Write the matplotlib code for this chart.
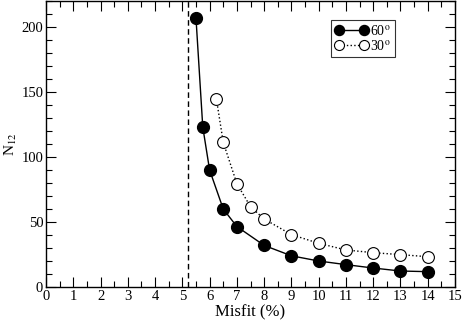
import matplotlib
matplotlib.use("Agg")
import matplotlib.pyplot as plt
from matplotlib.ticker import MultipleLocator

plt.rcParams['font.family'] = ['Liberation Serif', 'DejaVu Serif']
plt.rcParams['mathtext.fontset'] = 'stix'
plt.rcParams['xtick.direction'] = 'in'
plt.rcParams['ytick.direction'] = 'in'

misfit_60 = [5.5, 5.75, 6.0, 6.5, 7, 8, 9, 10, 11, 12, 13, 14]
n12_60 = [207, 123, 90, 60, 46.5, 32, 24, 20, 17.2, 14.6, 12.3, 11.8]

misfit_30 = [6.25, 6.5, 7, 7.5, 8, 9, 10, 11, 12, 13, 14]
n12_30 = [144.6, 111.3, 79.5, 61.8, 52.3, 40.3, 33.6, 28.5, 26.4, 24.9, 23.3]

critical_misfit = 5.2

fig = plt.figure(figsize=(4.63, 3.2), dpi=100)
ax = fig.add_axes([46/463, 33/320, 409/463, 286/320])

ax.plot(misfit_60, n12_60, '-', color='k', lw=1.0, marker='o', ms=8.5,
        mfc='k', mec='k', label=r'60$^{\rm o}$')
ax.plot(misfit_30, n12_30, ':', color='k', lw=1.0, marker='o', ms=8.5,
        mfc='white', mec='k', mew=0.8, label=r'30$^{\rm o}$')
ax.axvline(critical_misfit, color='k', lw=1.0, ls=(0, (4, 2.5)))

ax.set_xlim(0, 15)
ax.set_ylim(0, 220)
ax.xaxis.set_major_locator(MultipleLocator(1))
ax.xaxis.set_minor_locator(MultipleLocator(0.5))
ax.yaxis.set_major_locator(MultipleLocator(50))
ax.yaxis.set_minor_locator(MultipleLocator(10))
ax.tick_params(which='both', top=True, right=True, labelsize=10.5, pad=2)
ax.tick_params(which='major', length=7, width=0.8)
ax.tick_params(which='minor', length=4, width=0.8)
for s in ax.spines.values():
    s.set_linewidth(1.0)

ax.set_xlabel('Misfit (%)', fontsize=12, labelpad=1)
ax.set_ylabel(r'N$_{12}$', fontsize=11)
ax.yaxis.set_label_coords(-0.066, 0.5)

leg = ax.legend(loc='upper left', bbox_to_anchor=(0.697, 0.935), fontsize=10,
                frameon=True, fancybox=False, edgecolor='k', handlelength=2.4,
                numpoints=2, handletextpad=0.1, borderpad=0.3,
                labelspacing=0.1, borderaxespad=0, markerscale=0.85)
leg.get_frame().set_linewidth(0.8)

fig.savefig('out.png', dpi=100)
